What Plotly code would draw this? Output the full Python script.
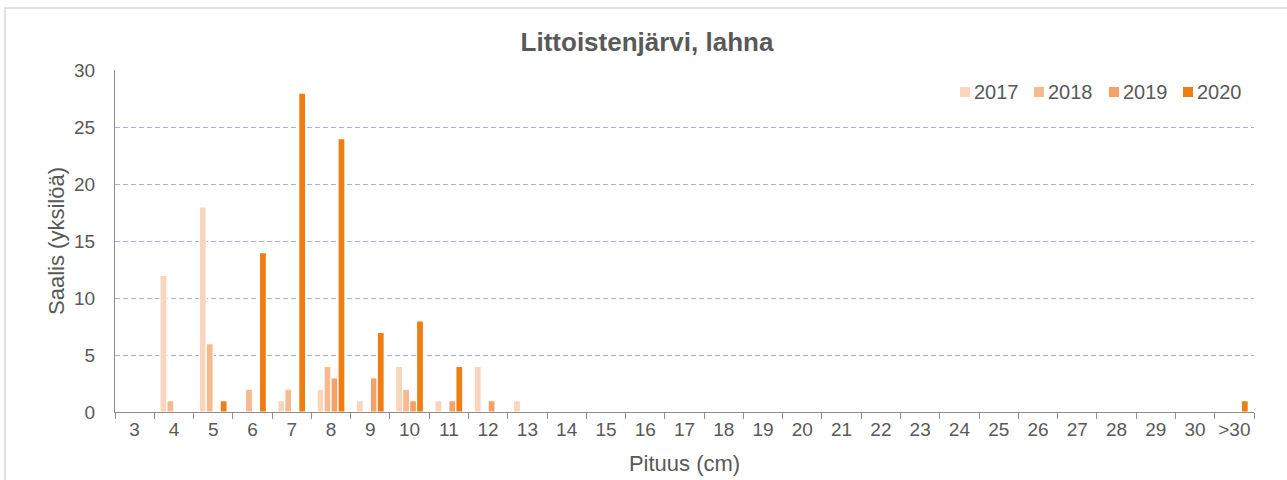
import plotly.graph_objects as go

# ---- data ----
categories = ["3", "4", "5", "6", "7", "8", "9", "10", "11", "12", "13", "14", "15",
              "16", "17", "18", "19", "20", "21", "22", "23", "24", "25", "26", "27",
              "28", "29", "30", ">30"]
years = ["2017", "2018", "2019", "2020"]
v2017 = [0, 12, 18, 0, 1, 2, 1, 4, 1, 4, 1, 0, 0, 0, 0, 0, 0, 0, 0, 0, 0, 0, 0, 0, 0, 0, 0, 0, 0]
v2018 = [0, 1, 6, 2, 2, 4, 0, 2, 0, 0, 0, 0, 0, 0, 0, 0, 0, 0, 0, 0, 0, 0, 0, 0, 0, 0, 0, 0, 0]
v2019 = [0, 0, 0, 0, 0, 3, 3, 1, 1, 1, 0, 0, 0, 0, 0, 0, 0, 0, 0, 0, 0, 0, 0, 0, 0, 0, 0, 0, 0]
v2020 = [0, 0, 1, 14, 28, 24, 7, 8, 4, 0, 0, 0, 0, 0, 0, 0, 0, 0, 0, 0, 0, 0, 0, 0, 0, 0, 0, 0, 1]
series = [v2017, v2018, v2019, v2020]
colors = ["#FAD4BB", "#F7B990", "#F4A168", "#EE7D12"]

# ---- layout geometry (pixels) ----
W, H = 1287, 480
L, R, T, B = 115, 1254, 70, 412
pw, ph = R - L, B - T
FONT = "Arial, Liberation Sans, sans-serif"
TXT = "#595959"


def px(x):
    return (x - L) / pw


def py(y):
    return (B - y) / ph


fig = go.Figure()
for name, vals, col in zip(years, series, colors):
    fig.add_trace(go.Bar(
        x=categories,
        y=[v if v else None for v in vals],
        name=name,
        marker=dict(color=col, line=dict(color="white", width=1.2)),
        showlegend=False,
    ))

shapes = [
    # outer chart border
    dict(type="rect", xref="paper", yref="paper",
         x0=px(5), x1=px(1300), y0=py(500), y1=py(8),
         line=dict(color="#D9D9D9", width=1.5), fillcolor="rgba(0,0,0,0)", layer="below"),
]
annotations = []
# manual legend
leg_sq_x = [960, 1034, 1109, 1183]
leg_y = 92
for xs, name, col in zip(leg_sq_x, years, colors):
    shapes.append(dict(type="rect", xref="paper", yref="paper",
                       x0=px(xs), x1=px(xs + 10), y0=py(leg_y + 5), y1=py(leg_y - 5),
                       line=dict(width=0), fillcolor=col))
    annotations.append(dict(xref="paper", yref="paper", x=px(xs + 12), y=py(leg_y),
                            xanchor="left", yanchor="middle", showarrow=False,
                            text=name, font=dict(family=FONT, size=20, color=TXT)))

fig.update_layout(
    width=W, height=H,
    margin=dict(l=L, r=W - R, t=T, b=H - B, pad=0, autoexpand=False),
    paper_bgcolor="white", plot_bgcolor="white",
    barmode="group", bargap=0.29, bargroupgap=0,
    title=dict(text="<b>Littoistenjärvi, lahna</b>", x=647 / W, xanchor="center",
               y=1 - 42 / H, yanchor="middle", yref="container", xref="container",
               font=dict(family=FONT, size=26, color=TXT)),
    font=dict(family=FONT, color=TXT),
    shapes=shapes,
    annotations=annotations,
    showlegend=False,
)
fig.update_xaxes(
    type="category", categoryorder="array", categoryarray=categories,
    tickson="boundaries", ticks="outside", ticklen=6, tickcolor="#8C8C8C", tickwidth=1,
    showline=True, linecolor="#8C8C8C", linewidth=1, showgrid=False,
    tickangle=0, automargin=False,
    tickfont=dict(family=FONT, size=19, color=TXT),
    title=dict(text="Pituus (cm)", font=dict(family=FONT, size=22, color=TXT), standoff=16),
)
fig.update_yaxes(
    range=[0, 30.03], tickvals=[0, 5, 10, 15, 20, 25, 30],
    showline=True, linecolor="#8C8C8C", linewidth=1,
    showgrid=True, gridcolor="#A8B1DC", gridwidth=1, griddash="5px,3px",
    zeroline=False, ticks="", ticklabelstandoff=15, automargin=False,
    tickfont=dict(family=FONT, size=19, color=TXT),
    title=dict(text="Saalis (yksilöä)", font=dict(family=FONT, size=22, color=TXT), standoff=3),
)

fig.write_html("out.html", config={"displayModeBar": False},
               post_script="document.body.style.margin='0px';document.body.style.overflow='hidden';")
